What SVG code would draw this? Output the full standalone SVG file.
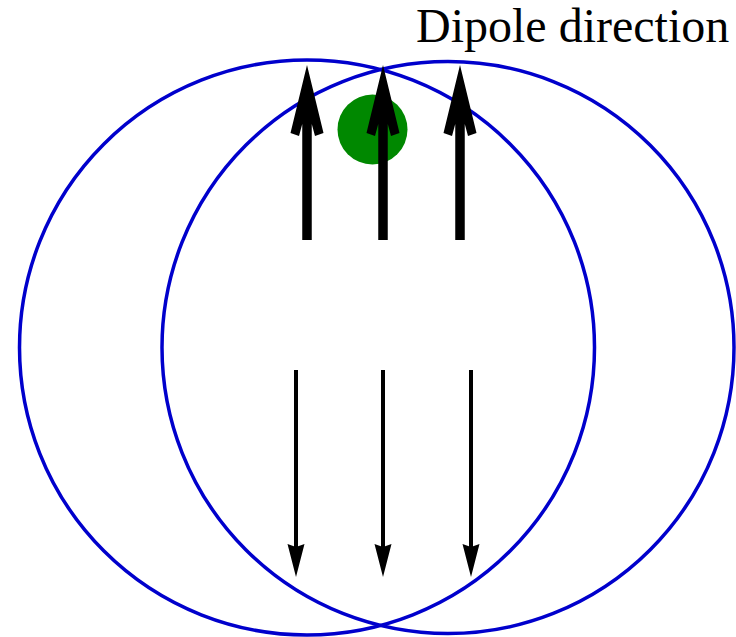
<svg xmlns="http://www.w3.org/2000/svg" width="736" height="637" viewBox="0 0 736 637">
<style>
.ring{fill:none;stroke:#0000cc;stroke-width:3.5}
.thin{stroke:#000;stroke-width:4;fill:none}
.label{font-family:"Liberation Serif","Times New Roman",serif;font-size:48px;fill:#000}
</style>
<defs>
<path id="bigarrow" d="M0,-175 L16.5,-107 L8,-104 L4.75,-116 L4.75,0 L-4.75,0 L-4.75,-116 L-8,-104 L-16.5,-107 Z" fill="#000"/>
<path id="smallhead" d="M0,0 L-8.5,-33 L0,-30 L8.5,-33 Z" fill="#000"/>
</defs>
<g id="left-circle"><circle class="ring" cx="307" cy="347.5" r="287.5"/></g>
<g id="right-circle"><circle class="ring" cx="448" cy="347.5" r="286"/></g>
<g id="green-dot"><circle cx="372.5" cy="129.5" r="35" fill="#008800"/></g>
<g id="connectors">
<use href="#bigarrow" x="307" y="240"/>
<use href="#bigarrow" x="383" y="240"/>
<use href="#bigarrow" x="460" y="240"/>
<line class="thin" x1="296" y1="370" x2="296" y2="550"/>
<use href="#smallhead" x="296" y="577"/>
<line class="thin" x1="383" y1="370" x2="383" y2="550"/>
<use href="#smallhead" x="383" y="577"/>
<line class="thin" x1="471" y1="370" x2="471" y2="550"/>
<use href="#smallhead" x="471" y="577"/>
</g>
<g id="label"><text class="label" x="416" y="42">Dipole direction</text></g>
</svg>
